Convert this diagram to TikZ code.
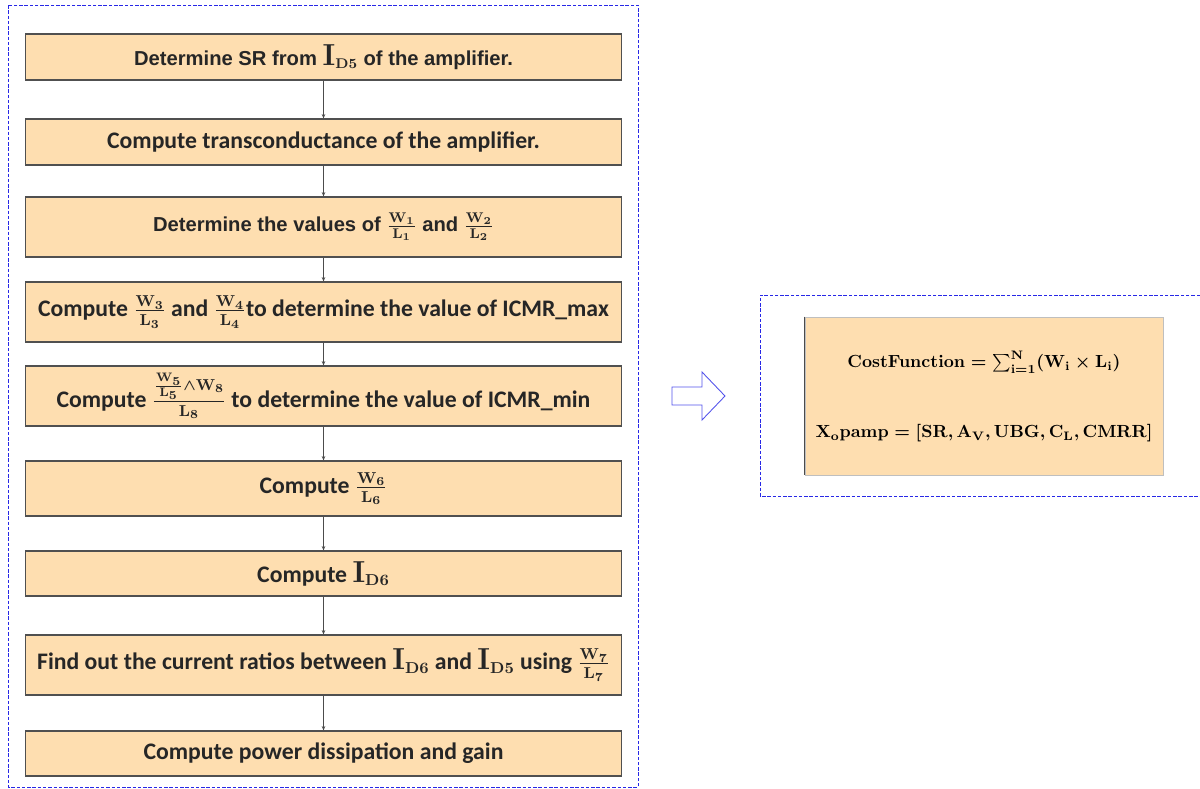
\documentclass[tikz,border=0pt]{standalone}
\usepackage{amsmath}
\usepackage{amssymb}
\usepackage[no-math]{fontspec}
\setmainfont{Carlito}
\newfontfamily\arialfont{Liberation Sans}
\usepackage{xcolor}
\definecolor{stepfill}{RGB}{254,222,176}
\definecolor{stepdraw}{RGB}{80,80,80}
\definecolor{framblue}{RGB}{40,40,230}
\usetikzlibrary{arrows.meta, positioning}

\tikzset{
  stepbox/.style={draw=stepdraw, fill=stepfill, line width=0.6pt,
    minimum width=11.94cm, inner sep=0pt, font=\bfseries\fontsize{13.5}{16}\selectfont, text=black!85},
  arialtext/.style={font=\arialfont\bfseries\fontsize{11.5}{14}\selectfont},
  flowline/.style={draw=black!70, line width=0.4pt, -{Stealth[length=2.5pt,width=2pt]}},
  frame/.style={draw=framblue, line width=0.5pt, dash pattern=on 2pt off 1pt},
}
\newcommand{\bI}[1]{\text{\fontsize{17}{17}\selectfont$\mathbf{I}$}_{\mathbf{#1}}}
\newcommand{\wl}[1]{\frac{\mathbf{W_{#1}}}{\mathbf{L_{#1}}}}

\begin{document}
\begin{tikzpicture}[x=0.02cm, y=-0.02cm]
  \useasboundingbox (0,0) rectangle (1200,788);

  % left frame
  \draw[frame] (8,5) rectangle (638,787);

  % steps of the flow
  \node[stepbox, minimum height=0.92cm, arialtext] (sr) at (323.5,57)
       {Determine SR from $\bI{D5}$ of the amplifier.};
  \node[stepbox, minimum height=0.92cm] (gm) at (323.5,142)
       {Compute transconductance of the amplifier.};
  \node[stepbox, minimum height=1.2cm, arialtext] (wl12) at (323.5,227)
       {Determine the values of $\wl{1}$ and $\wl{2}$};
  \node[stepbox, minimum height=1.2cm] (wl34) at (323.5,312)
       {Compute $\wl{3}$ and $\wl{4}$to determine the value of ICMR\_max};
  \node[stepbox, minimum height=1.2cm] (wl58) at (323.5,396)
       {Compute $\frac{\frac{\mathbf{W_5}}{\mathbf{L_5}}\boldsymbol{\wedge}\mathbf{W_8}}{\mathbf{L_8}}$ to determine the value of ICMR\_min};
  \node[stepbox, minimum height=1.1cm] (wl6) at (323.5,488.5)
       {Compute $\wl{6}$};
  \node[stepbox, minimum height=0.9cm] (id6) at (323.5,573.5)
       {Compute $\bI{D6}$};
  \node[stepbox, minimum height=1.2cm] (ratio) at (323.5,665)
       {Find out the current ratios between $\bI{D6}$ and $\bI{D5}$ using $\wl{7}$};
  \node[stepbox, minimum height=0.9cm] (pwr) at (323.5,753.5)
       {Compute power dissipation and gain};

  % connectors
  \foreach \a/\b in {sr/gm, gm/wl12, wl12/wl34, wl34/wl58, wl58/wl6, wl6/id6, id6/ratio, ratio/pwr}
    \draw[flowline] (\a) -- (\b);

  % hollow arrow
  \draw[draw=framblue!80, line width=0.5pt]
       (672,387) -- (702,387) -- (702,372) -- (725,396) -- (702,420) -- (702,405) -- (672,405) -- cycle;

  % right frame (open at the right)
  \draw[frame] (1200,295) -- (760,295) -- (760,496) -- (1200,496);

  % cost function box
  \node[fill=stepfill, draw=black!25, minimum width=7.16cm, minimum height=3.16cm,
        inner sep=0pt] (cost) at (984,396) {};
  \draw[black!70, line width=0.6pt] (cost.north west) -- (cost.south west);
  \node[font=\fontsize{10}{12}\selectfont\boldmath] (costfn) at (984,362)
       {$\mathbf{CostFunction} = \sum_{\mathbf{i=1}}^{\mathbf{N}}(\mathbf{W_i} \times \mathbf{L_i})$};
  \node[font=\fontsize{10}{12}\selectfont\boldmath] (xvec) at (984,433)
       {$\mathbf{X_o pamp} = [\mathbf{SR}, \mathbf{A_V}, \mathbf{UBG}, \mathbf{C_L}, \mathbf{CMRR}]$};
\end{tikzpicture}
\end{document}
